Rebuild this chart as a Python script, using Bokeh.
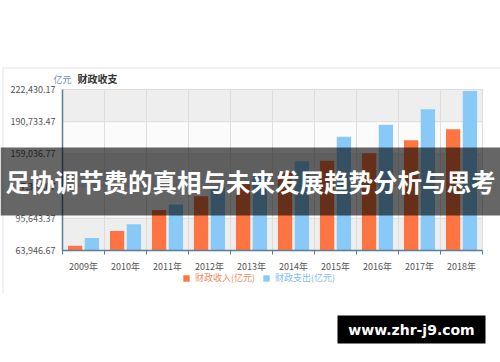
from bokeh.plotting import figure
from bokeh.models import (Label, BoxAnnotation, Legend, LegendItem, FixedTicker,
                          Range1d, NumeralTickFormatter)
from bokeh.embed import file_html
from bokeh.resources import INLINE

# ---- data ----
years = ["2009年", "2010年", "2011年", "2012年", "2013年",
         "2014年", "2015年", "2016年", "2017年", "2018年"]
revenue = [68518, 83102, 103874, 117254, 129210, 140370, 152269, 159605, 172593, 183352]
expenditure = [76300, 89874, 109248, 125953, 140212, 151786, 175878, 187755, 203085, 220904]
y_ticks = [63946.67, 95643.37, 127340.07, 159036.77, 190733.47, 222430.17]
series_names = ["财政收入(亿元)", "财政支出(亿元)"]
title_text = "财政收支"
unit_text = "亿元"
banner_text = "足协调节费的真相与未来发展趋势分析与思考"
watermark_text = "www.zhr-j9.com"

CJK = "Noto Sans CJK SC"
ORANGE = "#fe7543"
BLUE = "#88c9f7"
AXIS = "#5b7d96"

W, H = 500, 362
# chart area inside the canvas (pixels)
PL, PR, PT, PB = 62, 482, 89, 250

n = len(years)
centers = [i + 0.5 for i in range(n)]
bounds = [i for i in range(n + 1)]
ymin, ymax = y_ticks[0], y_ticks[-1]

xu = n / (PR - PL)            # data units per pixel
yu = (ymax - ymin) / (PB - PT)
x_range = Range1d(0 - PL * xu, n + (W - PR) * xu)
y_range = Range1d(ymin - (H - PB) * yu, ymax + PT * yu)

p = figure(width=W, height=H, output_backend="svg", toolbar_location=None,
           x_range=x_range, y_range=y_range, min_border=0)
p.outline_line_color = None
p.background_fill_color = "white"
p.border_fill_color = "white"
p.grid.visible = False

# plot-area background bands (alternating, from the y ticks)
band_colors = ["#eeeeee" if i % 2 == 0 else "#fbfbfb" for i in range(len(y_ticks) - 1)]
p.quad(left=0, right=n, bottom=y_ticks[:-1], top=y_ticks[1:], fill_color=band_colors,
       line_color=None)
# grid lines
p.segment(x0=0, x1=n, y0=y_ticks, y1=y_ticks, line_color="#dddddd", line_width=1)
p.segment(x0=bounds, x1=bounds, y0=ymin, y1=ymax, line_color="#dddddd", line_width=1)

r1 = p.vbar(x=[c - 0.2 for c in centers], top=revenue, bottom=ymin, width=0.34,
            color=ORANGE, line_color=None)
r2 = p.vbar(x=[c + 0.2 for c in centers], top=expenditure, bottom=ymin, width=0.34,
            color=BLUE, line_color=None)

# x axis
xa = p.xaxis[0]
xa.fixed_location = ymin
xa.bounds = (0, n)
xa.ticker = FixedTicker(ticks=centers, minor_ticks=bounds)
xa.major_label_overrides = {c: y for c, y in zip(centers, years)}
xa.major_tick_out = 0
xa.major_tick_in = 0
xa.minor_tick_out = 4
xa.minor_tick_in = 0
xa.minor_tick_line_color = AXIS
xa.axis_line_color = AXIS
xa.axis_line_width = 1.5
xa.major_label_text_font = CJK
xa.major_label_text_font_size = "9px"
xa.major_label_text_color = "#555555"
xa.major_label_standoff = 5

ya = p.yaxis[0]
ya.fixed_location = 0
ya.bounds = (ymin, ymax)
ya.ticker = FixedTicker(ticks=y_ticks)
ya.formatter = NumeralTickFormatter(format="0,0.00")
ya.major_tick_out = 0
ya.major_tick_in = 0
ya.minor_tick_line_color = None
ya.axis_line_color = AXIS
ya.axis_line_width = 1.5
ya.major_label_text_font = CJK
ya.major_label_text_font_size = "9px"
ya.major_label_text_color = "#555555"
ya.major_label_standoff = 7

def cbox(l, r, t, b, color, alpha=1.0):
    return BoxAnnotation(left=l, right=r, top=t, bottom=b, left_units="canvas",
                         right_units="canvas", top_units="canvas", bottom_units="canvas",
                         fill_color=color, fill_alpha=alpha, line_color=None,
                         level="overlay")

# container lines
p.add_layout(cbox(2, 500, 67, 68, "#e6e6e6"))
p.add_layout(cbox(2, 3, 67, 293, "#e6e6e6"))

p.add_layout(Label(x=77, y=78, x_units="canvas", y_units="canvas", text=title_text,
                   text_font=CJK, text_font_size="10px", text_font_style="bold",
                   text_color="#333333", text_baseline="middle"))
p.add_layout(Label(x=53, y=79, x_units="canvas", y_units="canvas", text=unit_text,
                   text_font=CJK, text_font_size="9px", text_color="#6b8cb3",
                   text_baseline="middle"))

# legends
for r, name, col, lx in [(r1, series_names[0], "#f08a5d", 182), (r2, series_names[1], "#7fbcef", 262)]:
    lg = Legend(items=[LegendItem(label=name, renderers=[r])], location=(lx, H - 284),
                orientation="horizontal", padding=0, margin=0, border_line_color=None,
                background_fill_alpha=0, glyph_width=8, glyph_height=8, label_height=8,
                label_standoff=5, label_text_font=CJK, label_text_font_size="9px",
                label_text_color=col)
    p.add_layout(lg, "center")

# banner overlay
p.add_layout(cbox(0, 500, 147, 215, "black", 0.6))
p.add_layout(Label(x=250, y=181, x_units="canvas", y_units="canvas", text=banner_text,
                   text_font=CJK, text_font_size="24.5px", text_font_style="bold",
                   text_color="white", text_align="center", text_baseline="middle",
                   level="overlay"))

# watermark
p.add_layout(cbox(337, 485, 315, 343, "black"))
p.add_layout(Label(x=411, y=329, x_units="canvas", y_units="canvas", text=watermark_text,
                   text_font="DejaVu Sans", text_font_size="14px", text_font_style="bold",
                   text_color="white", text_align="center", text_baseline="middle",
                   level="overlay"))

open("out.html", "w").write(file_html(p, INLINE))
